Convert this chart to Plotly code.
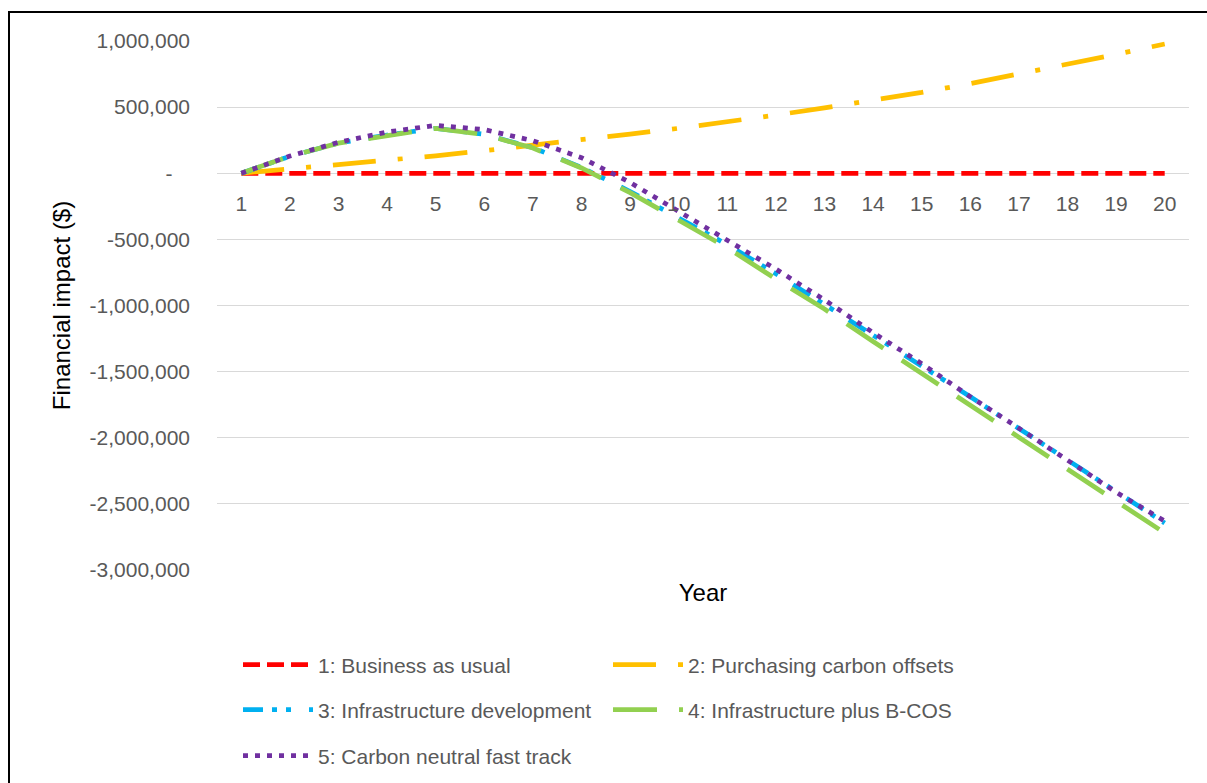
import plotly.graph_objects as go

# Year categories along the horizontal axis
year_labels = ["1", "2", "3", "4", "5", "6", "7", "8", "9", "10",
               "11", "12", "13", "14", "15", "16", "17", "18", "19", "20"]

# Cumulative financial impact ($) of each scenario by year
business_as_usual = [0, 0, 0, 0, 0, 0, 0, 0, 0, 0,
                     0, 0, 0, 0, 0, 0, 0, 0, 0, 0]
carbon_offsets = [0, 33000, 62000, 98000, 132000, 171000, 210000, 250000, 296000, 340000,
                  386000, 440000, 494000, 552000, 611000, 678000, 750000, 822000, 899000, 977000]
infrastructure = [0, 128000, 228000, 289000, 340000, 294000, 193000, 44000, -138000, -338000,
                  -540000, -760000, -990000, -1222000, -1460000, -1690000, -1930000, -2166000,
                  -2405000, -2645000]
infra_bcos = [0, 128000, 228000, 287000, 340000, 292000, 191000, 40000, -147000, -355000,
              -564000, -800000, -1027000, -1272000, -1514000, -1754000, -1999000, -2243000,
              -2484000, -2720000]
fast_track = [0, 130000, 234000, 312000, 362000, 330000, 246000, 118000, -70000, -290000,
              -500000, -725000, -958000, -1205000, -1440000, -1690000, -1928000, -2170000,
              -2412000, -2630000]

# Value-axis ticks (accounting style, zero shown as a dash)
y_ticks = [1000000, 500000, 0, -500000, -1000000, -1500000, -2000000, -2500000, -3000000]
y_tick_text = ["1,000,000", "500,000", "-\u00a0\u00a0\u00a0", "-500,000", "-1,000,000",
               "-1,500,000", "-2,000,000", "-2,500,000", "-3,000,000"]

series = [
    ("1: Business as usual", business_as_usual, "#FF0000", "17px,7px", "legend"),
    ("2: Purchasing carbon offsets", carbon_offsets, "#FFC000", "43px,22px,5px,22px", "legend"),
    ("3: Infrastructure development", infrastructure, "#00B0F0", "20px,9px,5px,9px,5px,18px", "legend2"),
    ("4: Infrastructure plus B-COS", infra_bcos, "#92D050", "44px,22px", "legend2"),
    ("5: Carbon neutral fast track", fast_track, "#7030A0", "5px,7px", "legend3"),
]

W, H = 1207, 783
L, R, T, B = 217, 18, 41, 213
plot_w = W - L - R
plot_h = H - T - B


def px_x(px):
    return (px - L) / plot_w


def px_y(py):
    return (H - B - py) / plot_h


fig = go.Figure()
for name, vals, color, dash, leg in series:
    fig.add_trace(go.Scatter(
        x=year_labels, y=vals, name=name, mode="lines",
        line=dict(color=color, width=4.75, dash=dash),
        legend=leg,
    ))

tick_font = dict(family="Liberation Sans, Arial, sans-serif", size=21, color="#595959")
title_font = dict(family="Liberation Sans, Arial, sans-serif", size=24, color="#000000")

legend_common = dict(orientation="h", xanchor="left", yanchor="middle",
                     itemwidth=70, entrywidth=285, entrywidthmode="pixels",
                     font=tick_font, bgcolor="rgba(0,0,0,0)", borderwidth=0)

fig.update_layout(
    width=W, height=H,
    margin=dict(l=L, r=R, t=T, b=B, autoexpand=False),
    paper_bgcolor="white", plot_bgcolor="white",
    font=tick_font,
    xaxis=dict(
        type="category", range=[-0.5, 19.5],
        anchor="free", position=0.75,
        showgrid=False, showline=False, zeroline=False, ticks="",
        tickfont=tick_font, ticklabelstandoff=16,
        title=dict(text="Year", font=title_font, standoff=369),
        automargin=False,
    ),
    yaxis=dict(
        range=[-3000000, 1000000],
        tickvals=y_ticks, ticktext=y_tick_text,
        showgrid=True, gridcolor="#D9D9D9", gridwidth=1.3,
        zeroline=False, showline=False, ticks="",
        tickfont=tick_font, ticklabelstandoff=26,
        title=dict(text="Financial impact ($)", font=title_font, standoff=12),
        automargin=False,
    ),
    legend=dict(x=px_x(238), y=px_y(665), **legend_common),
    legend2=dict(x=px_x(238), y=px_y(710), **legend_common),
    legend3=dict(x=px_x(238), y=px_y(756), **legend_common),
    showlegend=True,
    # chart-area frame along the top and left edges
    shapes=[
        dict(type="line", xref="paper", yref="paper",
             x0=px_x(8), x1=px_x(W), y0=px_y(12), y1=px_y(12),
             line=dict(color="#000000", width=2)),
        dict(type="line", xref="paper", yref="paper",
             x0=px_x(9), x1=px_x(9), y0=px_y(11), y1=px_y(H),
             line=dict(color="#000000", width=2)),
    ],
)

fig.write_html(
    "out.html",
    config={"displayModeBar": False},
    post_script="document.documentElement.style.overflow='hidden';"
                "document.body.style.overflow='hidden';document.body.style.margin='0';",
)
